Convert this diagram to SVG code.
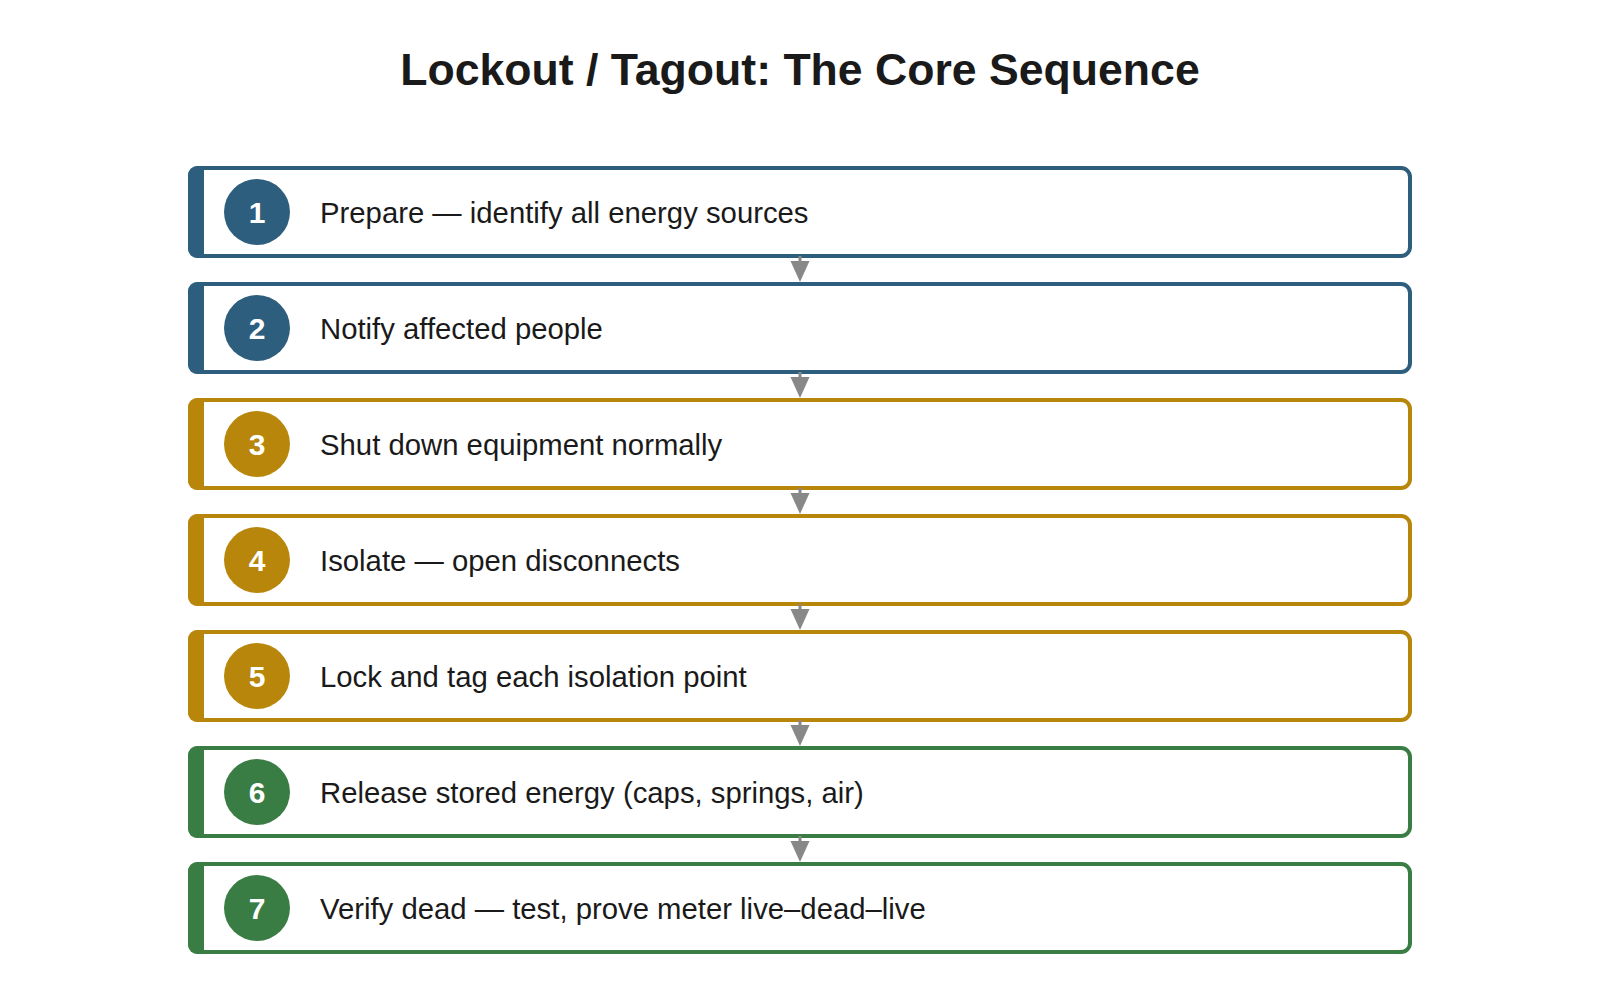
<svg xmlns="http://www.w3.org/2000/svg" width="1600" height="989" viewBox="0 0 1600 989">
<style>
.title{font-family:"Liberation Sans",Arial,sans-serif;font-size:44.6px;font-weight:bold;fill:#1a1a1a;text-anchor:middle}
.box{fill:#ffffff;stroke-width:4}
.lbl{font-family:"Liberation Sans",Arial,sans-serif;font-size:29.3px;fill:#1a1a1a}
.num{font-family:"Liberation Sans",Arial,sans-serif;font-size:30px;font-weight:bold;fill:#ffffff;text-anchor:middle}
.blue .box{stroke:#2e5e7e}.blue .acc,.blue circle{fill:#2e5e7e}
.gold .box{stroke:#b8860b}.gold .acc,.gold circle{fill:#b8860b}
.green .box{stroke:#3a7d44}.green .acc,.green circle{fill:#3a7d44}
.conn line{stroke:#888888;stroke-width:3}
.conn polygon{fill:#888888}
</style>
<rect width="1600" height="989" fill="#ffffff"/>
<text class="title" x="800" y="85">Lockout / Tagout: The Core Sequence</text>

<g id="step1" class="blue">
<rect class="box" x="190" y="168" width="1220" height="88" rx="9"/>
<path class="acc" d="M204,166 H197 A9,9 0 0 0 188,175 V249 A9,9 0 0 0 197,258 H204 Z"/>
<circle cx="257" cy="212" r="33"/>
<text class="num" x="257" y="223">1</text>
<text class="lbl" x="320" y="223">Prepare — identify all energy sources</text>
</g>
<g id="step2" class="blue">
<rect class="box" x="190" y="284" width="1220" height="88" rx="9"/>
<path class="acc" d="M204,282 H197 A9,9 0 0 0 188,291 V365 A9,9 0 0 0 197,374 H204 Z"/>
<circle cx="257" cy="328" r="33"/>
<text class="num" x="257" y="339">2</text>
<text class="lbl" x="320" y="339">Notify affected people</text>
</g>
<g id="step3" class="gold">
<rect class="box" x="190" y="400" width="1220" height="88" rx="9"/>
<path class="acc" d="M204,398 H197 A9,9 0 0 0 188,407 V481 A9,9 0 0 0 197,490 H204 Z"/>
<circle cx="257" cy="444" r="33"/>
<text class="num" x="257" y="455">3</text>
<text class="lbl" x="320" y="455">Shut down equipment normally</text>
</g>
<g id="step4" class="gold">
<rect class="box" x="190" y="516" width="1220" height="88" rx="9"/>
<path class="acc" d="M204,514 H197 A9,9 0 0 0 188,523 V597 A9,9 0 0 0 197,606 H204 Z"/>
<circle cx="257" cy="560" r="33"/>
<text class="num" x="257" y="571">4</text>
<text class="lbl" x="320" y="571">Isolate — open disconnects</text>
</g>
<g id="step5" class="gold">
<rect class="box" x="190" y="632" width="1220" height="88" rx="9"/>
<path class="acc" d="M204,630 H197 A9,9 0 0 0 188,639 V713 A9,9 0 0 0 197,722 H204 Z"/>
<circle cx="257" cy="676" r="33"/>
<text class="num" x="257" y="687">5</text>
<text class="lbl" x="320" y="687">Lock and tag each isolation point</text>
</g>
<g id="step6" class="green">
<rect class="box" x="190" y="748" width="1220" height="88" rx="9"/>
<path class="acc" d="M204,746 H197 A9,9 0 0 0 188,755 V829 A9,9 0 0 0 197,838 H204 Z"/>
<circle cx="257" cy="792" r="33"/>
<text class="num" x="257" y="803">6</text>
<text class="lbl" x="320" y="803">Release stored energy (caps, springs, air)</text>
</g>
<g id="step7" class="green">
<rect class="box" x="190" y="864" width="1220" height="88" rx="9"/>
<path class="acc" d="M204,862 H197 A9,9 0 0 0 188,871 V945 A9,9 0 0 0 197,954 H204 Z"/>
<circle cx="257" cy="908" r="33"/>
<text class="num" x="257" y="919">7</text>
<text class="lbl" x="320" y="919">Verify dead — test, prove meter live–dead–live</text>
</g>

<g id="connectors" class="conn">
<line x1="800" y1="256" x2="800" y2="263"/><polygon points="790.5,261 809.5,261 800,282"/>
<line x1="800" y1="372" x2="800" y2="379"/><polygon points="790.5,377 809.5,377 800,398"/>
<line x1="800" y1="488" x2="800" y2="495"/><polygon points="790.5,493 809.5,493 800,514"/>
<line x1="800" y1="604" x2="800" y2="611"/><polygon points="790.5,609 809.5,609 800,630"/>
<line x1="800" y1="720" x2="800" y2="727"/><polygon points="790.5,725 809.5,725 800,746"/>
<line x1="800" y1="836" x2="800" y2="843"/><polygon points="790.5,841 809.5,841 800,862"/>
</g>
</svg>
